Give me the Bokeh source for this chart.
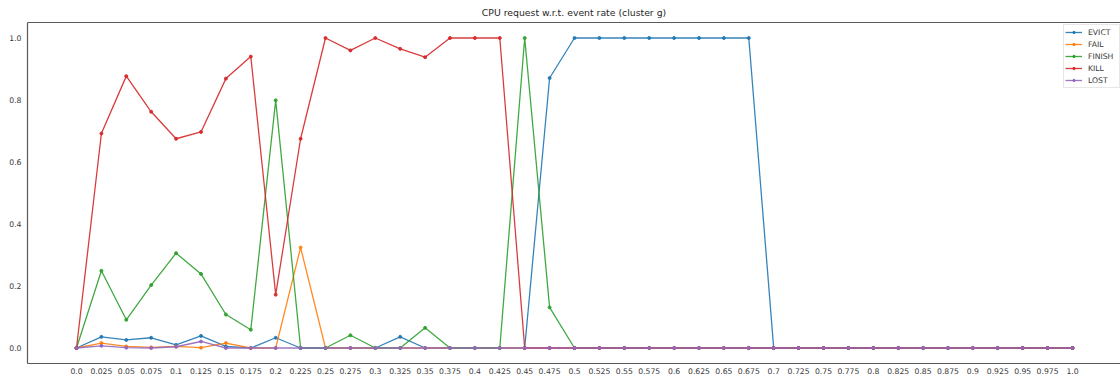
from bokeh.plotting import figure
from bokeh.models import FixedTicker, Range1d, Legend, LinearAxis
from bokeh.embed import file_html
from bokeh.resources import INLINE

x_labels = ["0.0", "0.025", "0.05", "0.075", "0.1", "0.125", "0.15", "0.175", "0.2", "0.225",
            "0.25", "0.275", "0.3", "0.325", "0.35", "0.375", "0.4", "0.425", "0.45", "0.475",
            "0.5", "0.525", "0.55", "0.575", "0.6", "0.625", "0.65", "0.675", "0.7", "0.725",
            "0.75", "0.775", "0.8", "0.825", "0.85", "0.875", "0.9", "0.925", "0.95", "0.975", "1.0"]

evict = [0.0, 0.036, 0.026, 0.033, 0.010, 0.039, 0.005, 0.0, 0.033, 0.0,
         0.0, 0.0, 0.0, 0.036, 0.0, 0.0, 0.0, 0.0, 0.0, 0.871,
         1.0, 1.0, 1.0, 1.0, 1.0, 1.0, 1.0, 1.0, 0.0, 0.0,
         0.0, 0.0, 0.0, 0.0, 0.0, 0.0, 0.0, 0.0, 0.0, 0.0, 0.0]
fail = [0.0, 0.016, 0.005, 0.002, 0.005, 0.001, 0.016, 0.0, 0.0, 0.324,
        0.0, 0.0, 0.0, 0.0, 0.0, 0.0, 0.0, 0.0, 0.0, 0.0,
        0.0, 0.0, 0.0, 0.0, 0.0, 0.0, 0.0, 0.0, 0.0, 0.0,
        0.0, 0.0, 0.0, 0.0, 0.0, 0.0, 0.0, 0.0, 0.0, 0.0, 0.0]
finish = [0.0, 0.249, 0.091, 0.203, 0.306, 0.239, 0.108, 0.059, 0.799, 0.0,
          0.0, 0.041, 0.0, 0.0, 0.065, 0.0, 0.0, 0.0, 1.0, 0.131,
          0.0, 0.0, 0.0, 0.0, 0.0, 0.0, 0.0, 0.0, 0.0, 0.0,
          0.0, 0.0, 0.0, 0.0, 0.0, 0.0, 0.0, 0.0, 0.0, 0.0, 0.0]
kill = [0.0, 0.692, 0.877, 0.762, 0.675, 0.697, 0.869, 0.940, 0.172, 0.675,
        1.0, 0.960, 1.0, 0.965, 0.938, 1.0, 1.0, 1.0, 0.0, 0.0,
        0.0, 0.0, 0.0, 0.0, 0.0, 0.0, 0.0, 0.0, 0.0, 0.0,
        0.0, 0.0, 0.0, 0.0, 0.0, 0.0, 0.0, 0.0, 0.0, 0.0, 0.0]
lost = [0.0, 0.007, 0.001, 0.0, 0.004, 0.021, 0.0, 0.0, 0.0, 0.0,
        0.0, 0.0, 0.0, 0.0, 0.0, 0.0, 0.0, 0.0, 0.0, 0.0,
        0.0, 0.0, 0.0, 0.0, 0.0, 0.0, 0.0, 0.0, 0.0, 0.0,
        0.0, 0.0, 0.0, 0.0, 0.0, 0.0, 0.0, 0.0, 0.0, 0.0, 0.0]

series_names = ["EVICT", "FAIL", "FINISH", "KILL", "LOST"]
series_values = [evict, fail, finish, kill, lost]
colors = ["#1f77b4", "#ff7f0e", "#2ca02c", "#d62728", "#9467bd"]

x = [float(s) for s in x_labels]
y_ticks = [0.0, 0.2, 0.4, 0.6, 0.8, 1.0]

FONT = "DejaVu Sans"
TXT = "#3a3a3a"
SPINE = "#5a5a5a"

p = figure(width=1120, height=378, output_backend="svg", toolbar_location=None,
           x_range=Range1d(-0.0492, 1.0482), y_range=Range1d(-0.05, 1.05),
           title="CPU request w.r.t. event rate (cluster g)")
p.min_border_left = 27
p.min_border_right = 0
p.min_border_top = 21
p.min_border_bottom = 15

p.title.align = "center"
p.title.text_font = FONT
p.title.text_font_size = "9.3px"
p.title.text_font_style = "normal"
p.title.text_color = "#262626"
p.title.standoff = 9

p.xgrid.visible = False
p.ygrid.visible = False
p.outline_line_color = None

for ax in (p.xaxis[0], p.yaxis[0]):
    ax.axis_line_color = SPINE
    ax.axis_line_width = 1.2
    ax.major_tick_line_color = None
    ax.minor_tick_line_color = None
    ax.major_tick_out = 0
    ax.major_tick_in = 0
    ax.minor_tick_out = 0
    ax.minor_tick_in = 0
    ax.major_label_text_font = FONT
    ax.major_label_text_font_size = "7.7px"
    ax.major_label_text_color = TXT

p.xaxis.ticker = FixedTicker(ticks=x)
p.xaxis.major_label_overrides = {v: s for v, s in zip(x, x_labels)}
p.xaxis.major_label_standoff = 4
p.yaxis.ticker = FixedTicker(ticks=y_ticks)
p.yaxis.major_label_overrides = {v: f"{v:.1f}" for v in y_ticks}
p.yaxis.major_label_standoff = 6

top_ax = LinearAxis(ticker=FixedTicker(ticks=[]), axis_line_color=SPINE, axis_line_width=1.2,
                    major_tick_line_color=None, minor_tick_line_color=None,
                    major_tick_out=0, major_tick_in=0, minor_tick_out=0, minor_tick_in=0,
                    major_label_standoff=0, major_label_text_font_size="0px")
p.add_layout(top_ax, "above")

items = []
for name, vals, c in zip(series_names, series_values, colors):
    r1 = p.line(x, vals, line_color=c, line_width=1.3, line_alpha=0.9)
    r2 = p.scatter(x, vals, marker="circle", size=3, fill_color=c, line_color=c,
                   fill_alpha=0.9, line_alpha=0.9)
    items.append((name, [r1, r2]))

legend = Legend(items=items, location=(1036, 275))
legend.margin = 0
legend.padding = 1
legend.spacing = 0
legend.glyph_width = 17
legend.glyph_height = 6
legend.label_height = 12
legend.label_width = 30
legend.label_standoff = 6
legend.label_text_font = FONT
legend.label_text_font_size = "7.7px"
legend.label_text_color = TXT
legend.border_line_color = "#d0d0d0"
legend.border_line_width = 1
legend.background_fill_alpha = 0.85
p.add_layout(legend)

open("out.html", "w").write(file_html(p, INLINE))
